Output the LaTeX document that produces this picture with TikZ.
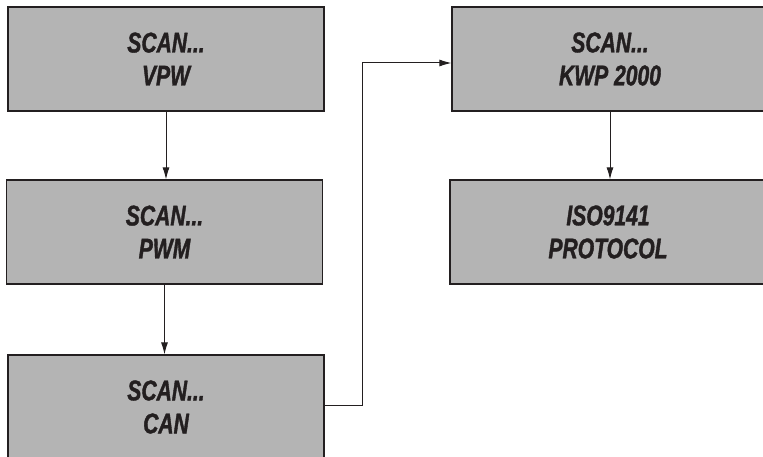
\documentclass[tikz,border=0pt]{standalone}
\usepackage{fontspec}
\newfontfamily\boxfont{Liberation Sans Bold Italic}[FakeStretch=0.74, FakeBold=1.3]
\usetikzlibrary{arrows.meta}
\definecolor{boxfill}{RGB}{180,180,180}
\definecolor{ink}{RGB}{35,31,32}
\begin{document}
\begin{tikzpicture}[x=1pt,y=1pt,
  stepbox/.style={draw=ink, line width=1.1pt, fill=boxfill, minimum width=316pt, minimum height=104pt,
    inner sep=0pt, align=center, text=ink, font=\boxfont\fontsize{28.5}{33}\selectfont},
  conn/.style={draw=ink, line width=1pt, -{Latex[length=12pt,width=7pt]}}]
\useasboundingbox (0,0) rectangle (763,456);
\clip (0,0) rectangle (763,456);
\node[stepbox] (vpw) at (166,397) {SCAN...\\VPW};
\node[stepbox] (pwm) at (164.5,224) {SCAN...\\PWM};
\node[stepbox] (can) at (166,49) {SCAN...\\CAN};
\node[stepbox] (kwp) at (610,397) {SCAN...\\KWP 2000};
\node[stepbox] (iso) at (608,224) {ISO9141\\PROTOCOL};
\coordinate (b1) at (362,51);
\coordinate (b2) at (362,393);
\draw[conn] (vpw.south) -- (pwm.north -| vpw.south);
\draw[conn] (pwm.south) -- (can.north -| pwm.south);
\draw[conn] (kwp.south) -- (iso.north -| kwp.south);
\draw[conn] (b1 -| can.east) -- (b1) -- (b2) -- (b2 -| kwp.west);
\end{tikzpicture}
\end{document}
